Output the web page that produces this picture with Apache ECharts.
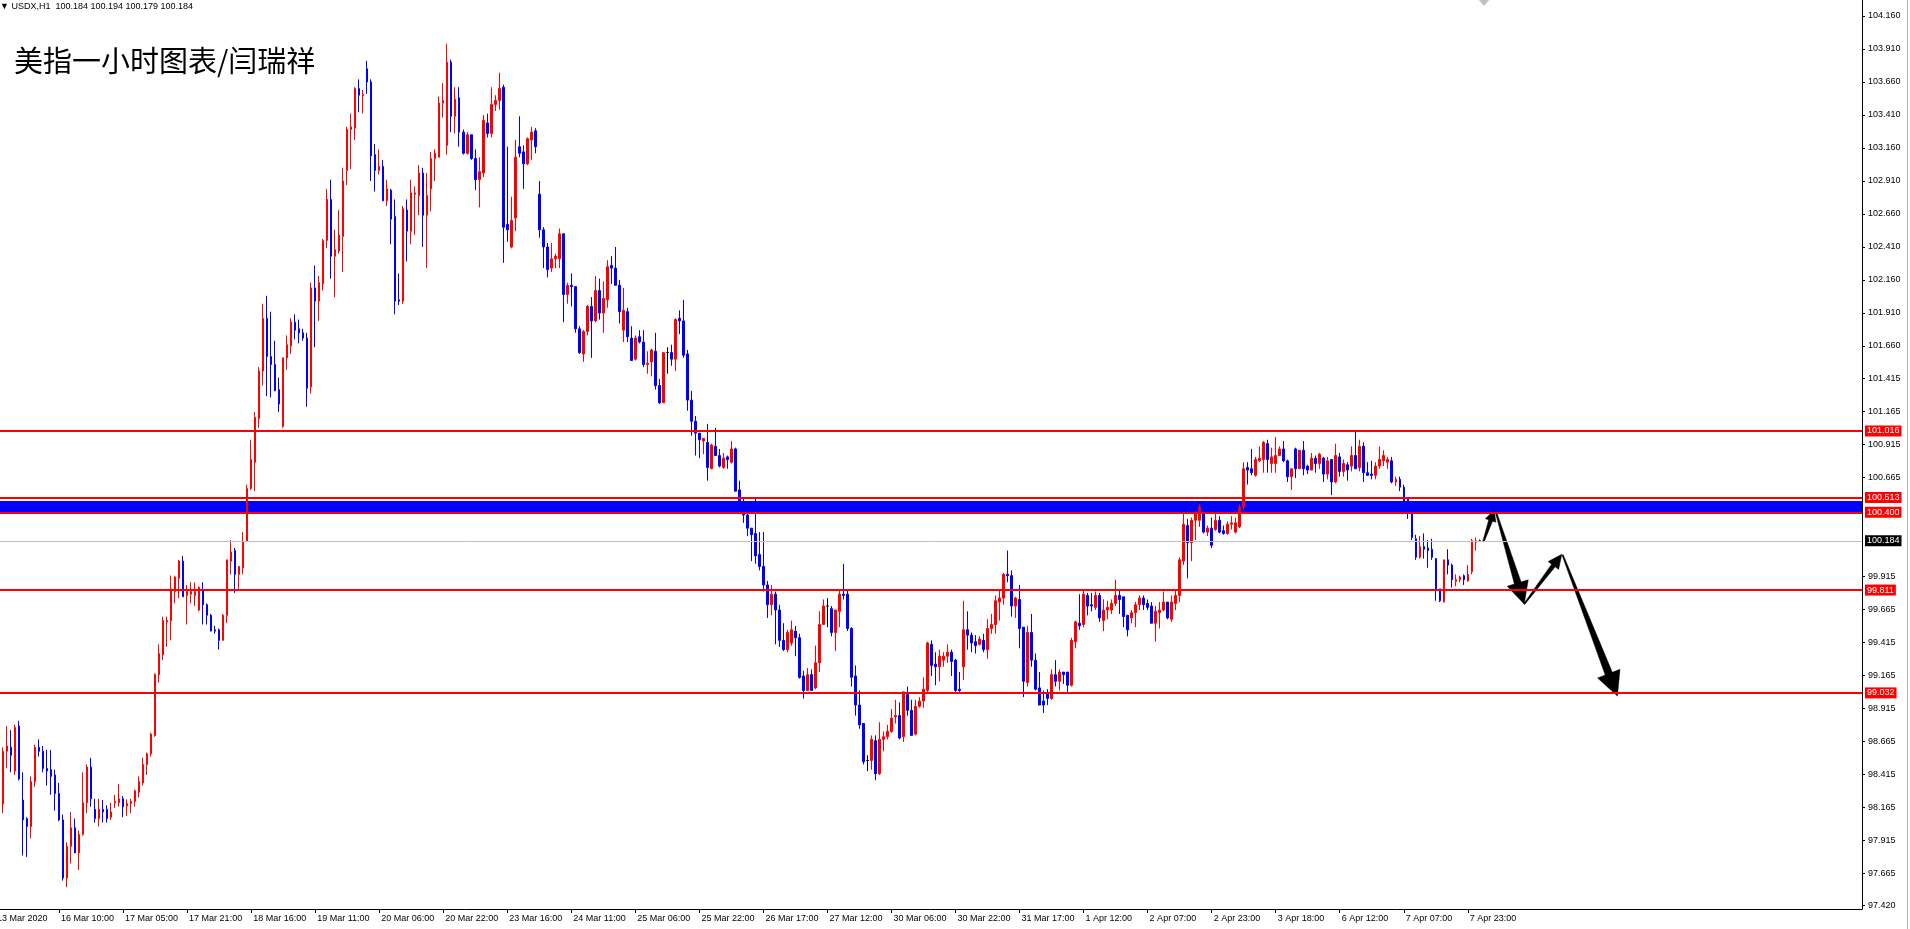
<!DOCTYPE html>
<html><head><meta charset="utf-8">
<script src="https://cdn.jsdelivr.net/npm/echarts@6/dist/echarts.min.js"></script>
<style>html,body{margin:0;padding:0;background:#fff;}#chart{width:1910px;height:929px;}</style>
</head><body><div id="chart"></div>
<script>
// ---- tick labels of the time axis (one every 16 hourly bars) ----
const timeLabels = ['13 Mar 2020','16 Mar 10:00','17 Mar 05:00','17 Mar 21:00','18 Mar 16:00','19 Mar 11:00',
  '20 Mar 06:00','20 Mar 22:00','23 Mar 16:00','24 Mar 11:00','25 Mar 06:00','25 Mar 22:00','26 Mar 17:00',
  '27 Mar 12:00','30 Mar 06:00','30 Mar 22:00','31 Mar 17:00','1 Apr 12:00','2 Apr 07:00','2 Apr 23:00',
  '3 Apr 18:00','6 Apr 12:00','7 Apr 07:00','7 Apr 23:00'];

// ---- price tick labels (right axis) ----
const yTickLabels = ['104.160','103.910','103.660','103.410','103.160','102.910','102.660','102.410','102.160',
  '101.910','101.660','101.415','101.165','100.915','100.665','99.915','99.665','99.415','99.165','98.915',
  '98.665','98.415','98.165','97.915','97.665','97.420'];

// ---- hourly OHLC ----
const opens = [
98.05,97.98,98.19,98.59,98.62,98.44,98.78,98.22,98.08,98.02,
98.36,98.62,98.59,98.46,98.45,98.41,98.27,98.07,97.63,97.87,
98.01,97.82,97.96,98.20,98.47,98.15,98.08,98.15,98.15,98.09,
98.20,98.20,98.23,98.175,98.195,98.21,98.28,98.35,98.49,98.57,
98.71,99.17,99.32,99.57,99.58,99.80,99.90,100.03,99.77,99.78,
99.77,99.66,99.81,99.70,99.62,99.51,99.51,99.43,99.62,100.03,
100.11,99.93,99.98,100.18,100.58,100.78,101.11,101.47,101.87,101.58,
101.52,101.33,101.05,101.57,101.66,101.84,101.79,101.76,101.72,101.35,
102.10,102.00,102.13,102.46,102.77,102.34,102.38,102.49,102.99,103.30,
103.31,103.61,103.556,103.76,103.66,103.11,102.99,103.02,102.76,102.84,
102.64,102.01,102.00,102.69,102.53,102.81,102.80,102.97,102.65,102.85,
103.08,103.09,103.50,103.18,103.81,103.40,103.54,103.28,103.12,103.26,
103.08,102.92,102.97,103.35,103.27,103.49,103.52,103.62,102.58,102.41,
102.63,103.17,103.13,103.04,103.22,103.29,102.81,102.54,102.41,102.25,
102.32,102.32,102.51,102.05,102.12,102.11,101.79,101.60,101.77,101.96,
101.85,102.08,101.91,102.01,102.27,102.25,102.12,101.78,101.92,101.72,
101.56,101.73,101.69,101.52,101.54,101.62,101.36,101.23,101.61,101.61,
101.56,101.87,101.85,101.60,101.25,101.09,101.00,100.94,100.93,100.73,
100.90,100.83,100.74,100.82,100.78,100.88,100.57,100.46,100.38,100.28,
100.24,100.08,99.99,99.85,99.70,99.78,99.66,99.43,99.36,99.41,
99.50,99.45,99.16,99.05,99.17,99.07,99.26,99.55,99.69,99.67,
99.49,99.65,99.78,99.78,99.52,99.16,98.94,98.80,98.52,98.52,
98.67,98.42,98.68,98.70,98.74,98.85,98.86,98.70,99.02,98.90,
98.72,98.93,98.97,99.05,99.40,99.25,99.23,99.28,99.31,99.34,
99.28,99.06,99.23,99.51,99.47,99.42,99.40,99.43,99.36,99.52,
99.55,99.72,99.75,99.93,99.92,99.69,99.74,99.53,99.11,99.49,
99.28,99.07,98.97,99.03,98.99,99.17,99.12,99.19,99.19,99.09,
99.42,99.56,99.55,99.77,99.70,99.68,99.77,99.58,99.66,99.66,
99.71,99.77,99.76,99.62,99.60,99.64,99.70,99.75,99.71,99.69,
99.56,99.64,99.66,99.72,99.59,99.71,99.77,100.03,100.30,100.17,
100.34,100.34,100.39,100.25,100.28,100.27,100.34,100.26,100.24,100.31,
100.25,100.29,100.44,100.74,100.73,100.68,100.79,100.80,100.92,100.77,
100.77,100.83,100.88,100.79,100.67,100.88,100.73,100.87,100.75,100.72,
100.81,100.77,100.81,100.69,100.80,100.63,100.82,100.71,100.76,100.75,
100.83,100.74,100.90,100.70,100.69,100.68,100.75,100.79,100.78,100.79,
100.63,100.65,100.59,100.50,100.39,100.20,100.06,100.14,100.13,100.12,
100.05,99.82,99.72,100.04,100.00,99.875,99.89,99.92,99.88,99.95,
100.173,100.184];
const closes = [
97.98,98.195,98.59,98.63,98.56,98.77,98.38,98.07,98.02,98.36,
98.62,98.59,98.46,98.44,98.40,98.27,98.07,97.63,97.87,98.01,
97.82,97.96,98.20,98.47,98.23,98.08,98.15,98.13,98.08,98.13,
98.21,98.23,98.17,98.195,98.21,98.29,98.36,98.49,98.57,98.72,
99.17,99.33,99.58,99.58,99.82,99.91,100.03,99.76,99.80,99.80,
99.80,99.83,99.70,99.62,99.50,99.50,99.43,99.62,100.04,100.10,
99.93,99.99,100.18,100.58,100.80,101.12,101.47,101.87,101.58,101.52,
101.32,101.22,101.57,101.67,101.84,101.78,101.76,101.72,101.34,102.10,
102.00,102.14,102.46,102.77,102.34,102.39,102.50,102.91,103.30,103.32,
103.61,103.56,103.566,103.66,103.10,102.99,103.02,102.76,102.85,102.62,
102.00,102.00,102.70,102.53,102.82,102.82,102.97,102.65,102.80,103.08,
103.12,103.50,103.52,103.81,103.40,103.53,103.28,103.12,103.26,103.08,
102.92,102.98,103.37,103.27,103.49,103.52,103.61,102.56,102.54,102.61,
103.09,103.12,103.04,103.23,103.28,103.17,102.54,102.41,102.24,102.32,
102.34,102.51,102.05,102.12,102.11,101.79,101.61,101.77,101.96,101.85,
102.08,101.91,102.02,102.26,102.25,102.12,101.92,101.93,101.73,101.55,
101.72,101.69,101.52,101.53,101.63,101.36,101.23,101.61,101.61,101.56,
101.86,101.85,101.59,101.25,101.09,101.00,100.95,100.96,100.74,100.91,
100.83,100.75,100.81,100.80,100.88,100.56,100.48,100.38,100.28,100.23,
100.07,99.99,99.85,99.70,99.78,99.66,99.43,99.36,99.49,99.51,
99.45,99.15,99.05,99.17,99.05,99.26,99.55,99.69,99.69,99.49,
99.66,99.78,99.77,99.52,99.15,98.94,98.79,98.51,98.52,98.68,
98.42,98.68,98.70,98.74,98.84,98.86,98.69,99.04,98.90,98.71,
98.93,98.97,99.06,99.41,99.24,99.23,99.31,99.31,99.34,99.27,
99.05,99.05,99.51,99.47,99.41,99.39,99.44,99.36,99.52,99.55,
99.73,99.75,99.93,99.92,99.69,99.75,99.52,99.12,99.49,99.28,
99.06,98.94,98.94,98.99,99.17,99.12,99.19,99.17,99.09,99.43,
99.57,99.54,99.78,99.69,99.69,99.77,99.60,99.66,99.68,99.71,
99.77,99.74,99.61,99.51,99.64,99.70,99.75,99.70,99.68,99.56,
99.65,99.66,99.72,99.60,99.72,99.77,100.04,100.31,100.17,100.34,
100.39,100.44,100.25,100.28,100.15,100.34,100.25,100.24,100.31,100.32,
100.32,100.44,100.73,100.72,100.70,100.80,100.81,100.93,100.80,100.82,
100.83,100.88,100.79,100.67,100.73,100.73,100.87,100.73,100.72,100.81,
100.77,100.84,100.69,100.79,100.63,100.83,100.71,100.77,100.72,100.83,
100.73,100.90,100.70,100.68,100.68,100.75,100.80,100.83,100.80,100.63,
100.65,100.59,100.48,100.44,100.21,100.06,100.14,100.12,100.11,100.06,
99.81,99.73,100.04,100.00,99.89,99.89,99.91,99.89,99.93,100.185,
100.185,100.184];
const highs = [
98.12,98.25,98.62,98.78,98.75,98.79,98.82,98.43,98.09,98.40,
98.64,98.68,98.63,98.60,98.60,98.45,98.35,98.11,97.90,98.13,
98.08,97.99,98.43,98.49,98.54,98.23,98.23,98.22,98.18,98.20,
98.26,98.34,98.25,98.225,98.23,98.30,98.40,98.54,98.58,98.73,
99.18,99.40,99.61,99.61,99.92,99.92,100.04,100.07,99.85,99.87,
99.87,99.84,99.87,99.71,99.63,99.54,99.52,99.63,100.04,100.19,
100.13,99.99,100.25,100.61,100.95,101.16,101.50,101.98,102.04,101.92,
101.70,101.42,101.57,101.74,101.87,101.90,101.86,101.79,101.76,102.14,
102.27,102.19,102.47,102.85,102.92,102.54,102.69,103.01,103.32,103.42,
103.62,103.68,103.60,103.82,103.68,103.19,103.15,103.07,102.92,102.85,
102.77,102.21,102.72,102.77,102.92,102.87,103.03,103.01,102.97,103.13,
103.15,103.55,103.65,103.95,103.83,103.62,103.62,103.30,103.28,103.26,
103.15,103.09,103.41,103.42,103.62,103.56,103.73,103.64,103.17,102.79,
103.22,103.40,103.18,103.24,103.32,103.31,102.91,102.56,102.44,102.44,
102.36,102.55,102.51,102.14,102.21,102.11,101.81,101.78,101.97,102.03,
102.19,102.17,102.15,102.31,102.34,102.41,102.16,102.10,101.95,101.81,
101.74,101.78,101.78,101.62,101.64,101.76,101.41,101.61,101.65,101.67,
101.87,101.93,102.01,101.63,101.32,101.13,101.00,100.96,101.07,100.92,
101.04,100.88,100.85,100.83,100.94,100.89,100.64,100.51,100.39,100.28,
100.50,100.25,100.25,99.88,99.85,99.80,99.70,99.56,99.51,99.58,
99.54,99.48,99.20,99.22,99.21,99.39,99.65,99.74,99.75,99.69,
99.66,99.81,100.01,99.81,99.53,99.24,99.05,98.80,98.56,98.71,
98.71,98.81,98.74,98.79,98.91,98.98,98.96,99.04,99.08,98.98,
98.98,99.00,99.15,99.42,99.43,99.34,99.36,99.34,99.40,99.36,
99.29,99.19,99.73,99.65,99.49,99.47,99.46,99.48,99.59,99.63,
99.77,99.81,99.94,100.11,99.96,99.76,99.85,99.53,99.54,99.63,
99.33,99.19,99.05,99.06,99.21,99.28,99.21,99.19,99.19,99.45,
99.58,99.78,99.82,99.79,99.79,99.80,99.79,99.74,99.73,99.74,
99.89,99.81,99.76,99.62,99.66,99.72,99.77,99.77,99.74,99.72,
99.69,99.72,99.80,99.72,99.77,99.81,100.06,100.40,100.35,100.36,
100.41,100.46,100.44,100.30,100.36,100.40,100.37,100.30,100.33,100.37,
100.36,100.46,100.78,100.78,100.88,100.82,100.90,100.94,100.95,100.89,
100.97,100.90,100.94,100.80,100.73,100.89,100.87,100.94,100.76,100.85,
100.83,100.85,100.82,100.82,100.80,100.92,100.85,100.80,100.78,100.90,
101.01,100.95,100.93,100.78,100.79,100.78,100.90,100.87,100.82,100.82,
100.67,100.67,100.61,100.51,100.39,100.23,100.22,100.24,100.19,100.20,
100.05,99.82,100.04,100.12,100.01,99.93,99.92,99.93,100.00,100.20,
100.21,100.194];
const lows = [
97.95,97.92,98.12,98.46,98.43,98.41,98.37,97.80,97.79,97.93,
98.32,98.55,98.43,98.33,98.26,98.14,98.06,97.61,97.56,97.74,
97.82,97.69,97.95,98.12,98.17,98.05,98.02,98.05,98.05,98.07,
98.16,98.17,98.09,98.10,98.12,98.17,98.24,98.33,98.41,98.55,
98.70,99.11,99.28,99.38,99.43,99.71,99.75,99.76,99.55,99.71,
99.69,99.65,99.55,99.55,99.50,99.48,99.36,99.43,99.56,99.93,
99.79,99.82,99.93,100.18,100.57,100.56,101.04,101.36,101.28,101.27,
101.32,101.16,101.04,101.48,101.60,101.71,101.68,101.70,101.20,101.30,
101.65,101.85,102.08,102.40,102.17,102.03,102.36,102.22,102.88,103.00,
103.22,103.43,103.42,103.57,102.91,102.83,102.96,102.76,102.72,102.43,
101.90,101.97,101.98,102.30,102.43,102.50,102.65,102.41,102.25,102.68,
102.91,103.09,103.39,103.11,103.28,103.27,103.17,103.11,103.11,103.07,
102.84,102.71,102.94,103.24,103.24,103.44,103.45,102.29,102.45,102.40,
102.53,103.09,102.85,103.03,103.07,103.12,102.48,102.25,102.18,102.22,
102.25,102.25,101.84,101.98,101.96,101.76,101.60,101.54,101.74,101.57,
101.84,101.86,101.76,101.95,102.13,102.12,101.83,101.69,101.69,101.55,
101.55,101.68,101.50,101.45,101.43,101.33,101.22,101.23,101.45,101.51,
101.47,101.75,101.57,101.17,100.98,100.83,100.81,100.84,100.64,100.73,
100.83,100.74,100.73,100.73,100.77,100.56,100.40,100.32,100.22,100.03,
100.01,99.96,99.80,99.60,99.62,99.40,99.38,99.35,99.34,99.39,
99.31,99.14,98.99,99.05,99.05,99.06,99.19,99.55,99.53,99.46,
99.35,99.53,99.74,99.50,99.08,98.86,98.76,98.49,98.44,98.45,
98.37,98.41,98.59,98.68,98.73,98.80,98.68,98.66,98.86,98.71,
98.71,98.92,98.92,99.04,99.16,99.09,99.12,99.23,99.26,99.16,
99.04,99.04,99.13,99.36,99.34,99.33,99.39,99.34,99.29,99.48,
99.48,99.58,99.70,99.87,99.61,99.60,99.37,99.00,99.08,99.23,
99.05,98.94,98.88,98.94,98.98,99.08,99.05,99.10,99.04,99.08,
99.37,99.51,99.53,99.62,99.65,99.66,99.57,99.50,99.59,99.63,
99.69,99.63,99.53,99.46,99.56,99.53,99.66,99.66,99.66,99.56,
99.42,99.52,99.65,99.59,99.57,99.66,99.72,100.00,99.90,100.03,
100.19,100.29,100.24,100.22,100.13,100.26,100.24,100.23,100.23,100.27,
100.24,100.28,100.42,100.61,100.68,100.67,100.78,100.70,100.70,100.70,
100.70,100.83,100.78,100.63,100.57,100.66,100.73,100.68,100.69,100.72,
100.70,100.73,100.63,100.65,100.53,100.62,100.67,100.67,100.64,100.71,
100.73,100.71,100.63,100.68,100.65,100.65,100.73,100.75,100.73,100.62,
100.60,100.56,100.43,100.35,100.19,100.04,100.05,100.05,99.98,100.04,
99.73,99.72,99.72,99.93,99.83,99.84,99.87,99.85,99.875,99.93,
100.11,100.179];

// ---- horizontal levels ----
const redLevels = [101.016, 100.513, 100.400, 99.811, 99.032];
const bidLevel = 100.184;
const zoneTop = 100.486, zoneBottom = 100.395;

// ---- drawn arrows: start (bar index, price) -> tip (bar index, price) ----
const arrowX0 = [371.9, 375.0, 382.1, 391.7];
const arrowP0 = [100.177, 100.404, 99.705, 100.077];
const arrowX1 = [374.6, 382.1, 391.5, 405.4];
const arrowP1 = [100.417, 99.705, 100.082, 99.008];

// ---- styles (not data) ----
const ARROW_SHAPES = [
  {w0: 0.7, w1: 2.0, hl: 11, hw: 5.5},
  {w0: 0.6, w1: 3.5, hl: 22, hw: 11},
  {w0: 0.6, w1: 2.2, hl: 14, hw: 6.5},
  {w0: 0.6, w1: 3.8, hl: 24, hw: 12}
];
const SLOTS = 467, PER_LABEL = 16;
const FONT = 'Liberation Sans, DejaVu Sans, sans-serif';

const showLabel = i => i % PER_LABEL === 0 && (i / PER_LABEL) < timeLabels.length;
const categories = [];
for (let i = 0; i < SLOTS; i++) categories.push(showLabel(i) ? timeLabels[i / PER_LABEL] : 'h' + i);
const candleData = opens.map((o, i) => [o, closes[i], lows[i], highs[i]]);
const yTickValues = yTickLabels.map(s => parseFloat(s));
const arrowData = arrowX0.map((x, i) => [x, arrowP0[i], arrowX1[i], arrowP1[i]]);

const lineData = redLevels.map(v => ({
  yAxis: v, name: v.toFixed(3),
  lineStyle: {color: '#ff0000', width: 2, type: 'solid'},
  label: {backgroundColor: '#ff0000'}
}));
lineData.push({yAxis: bidLevel, name: bidLevel.toFixed(3),
  lineStyle: {color: '#c0c0c0', width: 1, type: 'solid'},
  label: {backgroundColor: '#000000'}});

const chart = echarts.init(document.getElementById('chart'), null, {renderer: 'canvas'});
chart.setOption({
  animation: false,
  backgroundColor: '#ffffff',
  title: [
    {text: '\u25BC USDX,H1  100.184 100.194 100.179 100.184', left: 0, top: 2, padding: 0,
     textStyle: {fontSize: 9, fontWeight: 'normal', color: '#000', fontFamily: FONT}},
    {text: '美指一小时图表/闫瑞祥', left: 14, top: 46, padding: 0,
     textStyle: {fontSize: 29, fontWeight: 'normal', color: '#000', fontFamily: 'Noto Sans CJK SC'}}
  ],
  grid: {left: -7, right: 48, top: 0, bottom: 20, containLabel: false, outerBoundsMode: 'none'},
  xAxis: {
    type: 'category', data: categories, boundaryGap: true,
    axisLine: {show: true, onZero: false, lineStyle: {color: '#000', width: 1}},
    axisTick: {show: true, interval: i => showLabel(i), alignWithLabel: true, length: 4, lineStyle: {color: '#000'}},
    axisLabel: {interval: i => showLabel(i), align: 'left', padding: [0, 0, 0, 2], margin: 5,
      fontSize: 9, color: '#000', fontFamily: FONT},
    splitLine: {show: false}
  },
  yAxis: {
    type: 'value', position: 'right', min: 97.395, max: 104.281, scale: true,
    axisLine: {show: true, lineStyle: {color: '#000', width: 1}},
    axisTick: {show: true, length: 3, lineStyle: {color: '#000'}, customValues: yTickValues},
    axisLabel: {customValues: yTickValues, formatter: v => v.toFixed(3), color: '#000',
      fontSize: 9, fontFamily: FONT, margin: 6},
    splitLine: {show: false}
  },
  series: [
    {type: 'line', data: [], z: 1, silent: true,
     markArea: {silent: true, itemStyle: {color: '#0000ff', opacity: 1},
       data: [[{yAxis: zoneTop}, {yAxis: zoneBottom}]]}},
    {type: 'candlestick', z: 2, data: candleData, barWidth: 2, silent: true,
     itemStyle: {color: '#ff0000', color0: '#0000ff', borderColor: '#ff0000', borderColor0: '#0000ff',
       borderColorDoji: '#000000', borderWidth: 1}},
    {type: 'line', data: [], z: 3, silent: true,
     markLine: {silent: true, symbol: ['none', 'none'], precision: 3,
       label: {show: true, position: 'end', distance: 3, formatter: p => p.name, color: '#fff',
         fontSize: 9, fontFamily: FONT, padding: [1, 2, 0, 2], lineHeight: 10},
       data: lineData}},
    {type: 'custom', z: 4, silent: true, clip: false, data: arrowData,
     encode: {x: [0, 2], y: [1, 3]},
     renderItem: (params, api) => {
       const pt = (x, y) => {
         const i = Math.floor(x);
         const a = api.coord([i, y]), b = api.coord([i + 1, y]);
         return [a[0] + (x - i) * (b[0] - a[0]), a[1]];
       };
       const s = pt(api.value(0), api.value(1));
       const t = pt(api.value(2), api.value(3));
       const sh = ARROW_SHAPES[params.dataIndex];
       const dx = t[0] - s[0], dy = t[1] - s[1], L = Math.hypot(dx, dy);
       const ux = dx / L, uy = dy / L, nx = -uy, ny = ux;
       const bx = t[0] - ux * sh.hl, by = t[1] - uy * sh.hl;
       const pts = [
         [s[0] + nx * sh.w0, s[1] + ny * sh.w0],
         [bx + nx * sh.w1, by + ny * sh.w1],
         [bx + nx * sh.hw, by + ny * sh.hw],
         [t[0], t[1]],
         [bx - nx * sh.hw, by - ny * sh.hw],
         [bx - nx * sh.w1, by - ny * sh.w1],
         [s[0] - nx * sh.w0, s[1] - ny * sh.w0]
       ];
       return {type: 'polygon', shape: {points: pts}, style: {fill: '#000', stroke: '#000', lineWidth: 0.5}};
     }}
  ],
  graphic: [
    {type: 'line', silent: true, shape: {x1: 1907.5, y1: 0, x2: 1907.5, y2: 929}, style: {stroke: '#b0b0b0', lineWidth: 1}},
    {type: 'polygon', silent: true, shape: {points: [[1479, 0], [1489, 0], [1484, 6]]}, style: {fill: '#c0c0c0'}}
  ]
});
</script>
</body></html>
